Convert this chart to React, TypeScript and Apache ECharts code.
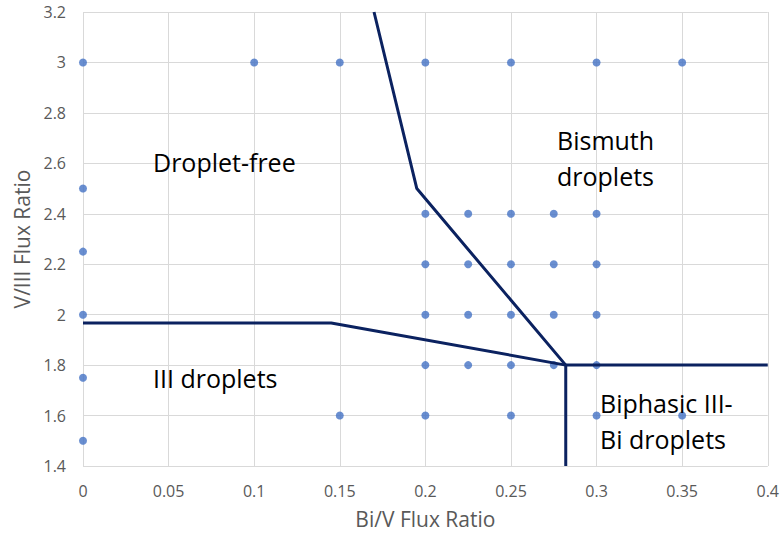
import React, { useEffect, useRef } from "react";
import * as echarts from "echarts";

const xTicks = { min: 0, max: 0.4, interval: 0.05 };
const yTicks = { min: 1.4, max: 3.2, interval: 0.2 };

const samplePoints: [number, number][] = [
  [0, 3], [0.1, 3], [0.15, 3], [0.2, 3], [0.25, 3], [0.3, 3], [0.35, 3],
  [0, 2.5], [0, 2.25], [0, 2], [0, 1.75], [0, 1.5],
  [0.2, 2.4], [0.225, 2.4], [0.25, 2.4], [0.275, 2.4], [0.3, 2.4],
  [0.2, 2.2], [0.225, 2.2], [0.25, 2.2], [0.275, 2.2], [0.3, 2.2],
  [0.2, 2], [0.225, 2], [0.25, 2], [0.275, 2], [0.3, 2],
  [0.2, 1.8], [0.225, 1.8], [0.25, 1.8], [0.275, 1.8], [0.3, 1.8],
  [0.15, 1.6], [0.2, 1.6], [0.25, 1.6], [0.3, 1.6], [0.35, 1.6],
];

const boundaryBismuth: [number, number][] = [[0.17, 3.2], [0.195, 2.5], [0.282, 1.8]];
const boundaryIII: [number, number][] = [[0, 1.967], [0.145, 1.967], [0.282, 1.8]];
const boundaryRight: [number, number][] = [[0.282, 1.8], [0.4, 1.8]];
const boundaryDown: [number, number][] = [[0.282, 1.8], [0.282, 1.4]];

const regionLabels = [
  { text: "Droplet-free", x: 153, y: 162 },
  { text: "Bismuth\ndroplets", x: 557, y: 158 },
  { text: "III droplets", x: 153, y: 378 },
  { text: "Biphasic III-\nBi droplets", x: 600, y: 421 },
];

const FONT = "'Open Sans', sans-serif";
const LINE_COLOR = "#0b2260";

export default function App() {
  const ref = useRef<HTMLDivElement>(null);
  useEffect(() => {
    const chart = echarts.init(ref.current!, null, { renderer: "svg" });
    const lineSeries = (data: [number, number][]) => ({
      type: "line",
      data,
      symbol: "none",
      lineStyle: { color: LINE_COLOR, width: 3 },
      z: 3,
    });
    chart.setOption({
      animation: false,
      textStyle: { fontFamily: FONT },
      grid: { left: 83, right: 12, top: 12, bottom: 72 },
      xAxis: {
        type: "value",
        ...xTicks,
        name: "Bi/V Flux Ratio",
        nameLocation: "middle",
        nameGap: 42,
        nameTextStyle: { color: "#595959", fontSize: 21, fontFamily: FONT },
        axisLine: { show: false },
        axisTick: { show: false },
        axisLabel: { color: "#595959", fontSize: 16, margin: 17, fontFamily: FONT },
        splitLine: { lineStyle: { color: "#d9d9d9", width: 1 } },
      },
      yAxis: {
        type: "value",
        ...yTicks,
        name: "V/III Flux Ratio",
        nameLocation: "middle",
        nameGap: 49,
        nameTextStyle: { color: "#595959", fontSize: 21, fontFamily: FONT },
        axisLine: { show: false },
        axisTick: { show: false },
        axisLabel: { color: "#595959", fontSize: 16, margin: 17, fontFamily: FONT },
        splitLine: { lineStyle: { color: "#d9d9d9", width: 1 } },
      },
      series: [
        {
          type: "scatter",
          data: samplePoints,
          symbolSize: 8,
          itemStyle: { color: "#4472c4" },
          z: 2,
        },
        lineSeries(boundaryBismuth),
        lineSeries(boundaryIII),
        lineSeries(boundaryRight),
        lineSeries(boundaryDown),
      ],
      graphic: regionLabels.map((l) => ({
        type: "text",
        x: l.x,
        y: l.y,
        z: 10,
        style: {
          text: l.text,
          fill: "#000",
          fontSize: 25,
          fontFamily: FONT,
          lineHeight: 36,
          verticalAlign: "middle",
          align: "left",
        },
      })),
    });
    return () => chart.dispose();
  }, []);
  return (
    <div
      ref={ref}
      style={{ position: "absolute", left: 0, top: 0, width: 782, height: 538, background: "#fff" }}
    />
  );
}
